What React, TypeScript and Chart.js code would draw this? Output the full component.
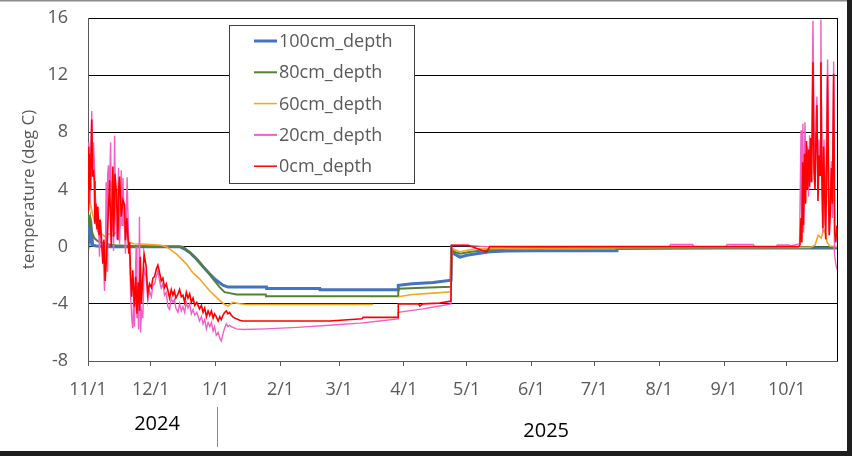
import React, { useEffect, useRef } from "react";
import { Chart, registerables } from "chart.js";

Chart.register(...registerables);

// ---------- data ----------
// x values are days since 2024-11-01
const monthTickDays = [0, 30, 61, 92, 120, 151, 181, 212, 242, 273, 304, 334];
const monthTickLabels = ["11/1", "12/1", "1/1", "2/1", "3/1", "4/1", "5/1", "6/1", "7/1", "8/1", "9/1", "10/1"];
const yearLabels = ["2024", "2025"];
const yearLabelDays = [33, 219];
const yearDividerDay = 61;
const xMaxDay = 358;
const yMin = -8;
const yMax = 16;
const yStep = 4;
const yTitle = "temperature (deg C)";
const seriesNames = ["100cm_depth", "80cm_depth", "60cm_depth", "20cm_depth", "0cm_depth"];

const depth100: [number, number | null][] = [
  [0, 0.9], [0.5, 1.3], [1, 0.6], [1.6, 1.2], [2.2, 0.1], [4, 0.05], [10, 0], [43.8, 0], [46, -0.15],
  [48.6, -0.4], [51.8, -0.85], [55, -1.4], [58.1, -1.9], [61.3, -2.35], [64.5, -2.7], [66.9, -2.83],
  [85.3, -2.83], [85.4, -2.93], [110.8, -2.93], [110.9, -3.02], [148.2, -3.02], [148.3, -2.7], [155, -2.6],
  [165, -2.5], [173.5, -2.35], [173.8, -0.2], [175, -0.5], [177.8, -0.73], [181, -0.6], [185.7, -0.5],
  [192, -0.35], [200, -0.3], [214, -0.28], [252.7, -0.28], [252.8, -0.12], [300, -0.1], [358, -0.1],
];

const depth80: [number, number | null][] = [
  [0, 2.2], [0.4, 1.5], [1, 2.0], [1.5, 1.2], [2.2, 0.9], [3, 0.6], [4.5, 0.4], [6, 0.3], [8, 0.25],
  [10, 0.15], [13, 0.1], [20, 0.05], [30, 0], [45.4, 0], [47.5, -0.25], [50.1, -0.6], [53.3, -1.08],
  [56.6, -1.66], [59.7, -2.25], [62.9, -2.83], [65.3, -3.18], [67.7, -3.25], [70.9, -3.35], [85, -3.35],
  [85.1, -3.47], [148.2, -3.47], [148.3, -2.95], [160, -2.88], [173.5, -2.8], [173.8, -0.15], [175, -0.35],
  [177.8, -0.5], [183, -0.35], [190, -0.25], [200, -0.15], [220, -0.1], [260, -0.08], [300, -0.06], [358, -0.06],
];

const depth60: [number, number | null][] = [
  [0, 3.0], [0.6, 4.2], [1.2, 3.0], [2, 2.4], [3, 1.8], [4.5, 1.3], [6, 1.0], [8, 0.7], [10, 0.9],
  [12, 0.8], [14, 1.1], [15.5, 1.5], [16.8, 2.1], [17.8, 1.6], [18.6, 0.8], [19.5, 0.3], [22, 0.2],
  [30, 0.15], [35, 0.1], [37.4, 0], [42.2, -0.5], [47, -1.2], [50, -1.8], [53.3, -2.25], [58, -3.07],
  [63, -3.77], [65.3, -4.05], [66.9, -4.15], [69.3, -3.9], [72.5, -4.0], [75.7, -4.05], [136.3, -4.05],
  [142, null], [148.3, -3.5], [155, -3.35], [165, -3.25], [173.5, -3.15], [173.8, -0.1], [175, -0.2],
  [177.8, -0.35], [185, -0.15], [200, -0.12], [250, -0.08], [300, -0.05], [345, -0.05], [347.5, 0.1],
  [349, 0.8], [350.5, 0.6], [351.6, 1.25], [352.5, 0.9], [353.3, 0.3], [354.5, 0.05], [358, 0],
];

const depth20: [number, number | null][] = [
  [0, 6.5], [0.4, 7.3], [0.9, 3.0], [1.3, 6.0], [1.8, 9.5], [2.2, 5.0], [2.6, 7.3], [3.0, 6.0], [3.5, 3.5],
  [4.0, 2.5], [4.6, 1.0], [5.0, 1.8], [5.5, -0.7], [6.0, 1.8], [6.6, 0.3], [7.0, -0.3], [7.5, -1.5],
  [7.9, -3.1], [8.3, -0.5], [8.7, 4.5], [9.1, -1.7], [9.4, 5.1], [9.8, 5.7], [10.3, 4.0], [10.8, 7.3],
  [11.3, 1.0], [11.7, 4.5], [12.2, -0.3], [12.7, 7.75], [13.2, 2.0], [13.8, 0.5], [14.6, 5.5], [15.1, 0.2],
  [15.9, 5.35], [16.3, 1.5], [16.7, 4.8], [17.3, 2.0], [17.9, -0.5], [18.7, 4.85], [19.3, 1.0], [19.9, -0.7],
  [20.4, -3.5], [20.9, -5.0], [21.4, -5.7], [21.9, -3.0], [22.2, -5.6], [22.6, -2.5], [23.0, 0.0],
  [23.4, -5.0], [23.8, -4.0], [24.2, -5.8], [24.6, 2.1], [25.1, -6.0], [25.6, -4.5], [26.2, -5.0],
  [26.8, -1.5], [27.8, -2.2], [28.6, -3.8], [29.4, -3.1], [30.3, -3.5], [31.0, -2.7], [31.8, -2.6],
  [32.6, -2.1], [33.4, -1.7], [34.2, -2.4], [35.0, -2.9], [35.8, -2.6], [36.6, -3.4], [37.4, -3.2],
  [38.2, -4.2], [39.0, -4.4], [39.8, -3.6], [40.6, -3.9], [41.3, -3.7], [42.0, -4.3], [43.0, -4.6],
  [43.8, -4.0], [44.6, -4.5], [45.4, -4.2], [46.2, -4.6], [47.0, -3.9], [47.8, -4.3], [48.6, -4.0],
  [49.4, -4.7], [50.2, -4.4], [51.0, -4.8], [52.0, -4.6], [53.3, -5.2], [54.2, -4.9], [55.0, -5.4],
  [55.8, -5.1], [56.6, -5.75], [57.4, -5.3], [58.2, -5.6], [59.0, -5.3], [59.8, -5.9], [60.5, -5.6],
  [61.3, -6.2], [62.2, -6.0], [63.0, -6.4], [63.7, -6.6], [64.5, -6.1], [65.3, -5.7], [66.1, -5.4],
  [66.9, -5.6], [67.7, -5.5], [68.5, -5.6], [70.9, -5.75], [74.0, -5.8], [85, -5.75], [100, -5.65],
  [115.5, -5.5], [130, -5.35], [139.5, -5.2], [148.2, -5.05], [148.3, -4.6], [160, -4.35], [168, -4.15],
  [173.5, -4.0], [173.8, 0.1], [181.7, 0.08], [190, 0.0], [278, 0.0], [278.5, 0.15], [289, 0.15],
  [289.5, 0.0], [305, 0.0], [305.5, 0.15], [318, 0.15], [318.5, 0.0], [329, 0.0], [329.5, 0.12],
  [335, 0.12], [335.5, 0.05], [340.1, 0.2], [340.8, 8.15], [341.2, 0.5], [341.7, 8.6], [342.0, 1.0],
  [342.7, 8.7], [343.3, 4.0], [343.9, 7.0], [344.4, 3.5], [344.9, 7.8], [345.4, 4.5], [345.9, 6.5],
  [346.5, 15.8], [347.3, 5.0], [347.8, 8.5], [348.4, 10.5], [348.9, 4.0], [349.4, 7.5], [349.9, 5.5],
  [350.3, 15.9], [350.8, 5.0], [351.3, 1.0], [351.8, 7.5], [352.4, 1.5], [352.9, 6.5], [353.5, 13.1],
  [354.3, 0.8], [354.8, 3.0], [355.3, 6.0], [355.8, 2.0], [356.4, 12.95], [356.8, -0.5], [357.5, -1.3],
  [358.0, -1.6],
];

const depth0: [number, number | null][] = [
  [0, 7.0], [0.3, 2.5], [0.6, 6.5], [1.0, 4.0], [1.3, 5.2], [1.8, 8.9], [2.2, 4.9], [2.6, 5.4], [3.0, 4.6],
  [3.3, 1.6], [3.8, 3.0], [4.3, 1.2], [4.7, 2.8], [5.3, 0.8], [5.8, 1.9], [6.3, 0.7], [7.1, -1.2],
  [7.6, 0.5], [8.2, -2.4], [8.8, -0.8], [9.5, 1.6], [10.3, 4.65], [11.1, 0.0], [11.9, 5.6], [12.3, 0.7],
  [12.9, 5.1], [13.5, 3.95], [14.3, 0.45], [14.7, 4.1], [15.1, 4.9], [15.9, 2.1], [16.7, 3.25], [17.5, 2.9],
  [17.9, 0.45], [18.6, 2.0], [19.5, -0.5], [19.9, 0.3], [20.4, -2.1], [20.9, -3.5], [21.4, -1.66],
  [22.2, -4.2], [22.8, -2.1], [23.4, -4.7], [24.0, -2.5], [24.6, -4.5], [25.0, -0.7], [25.5, -4.0],
  [26.2, -2.1], [26.8, -0.5], [27.8, -1.4], [28.6, -3.3], [29.4, -2.6], [30.3, -2.85], [31.0, -2.2],
  [31.8, -2.1], [32.6, -1.6], [33.4, -1.3], [34.2, -1.8], [35.0, -2.4], [35.8, -2.2], [36.6, -2.85],
  [37.4, -2.6], [38.2, -3.07], [39.0, -3.6], [39.8, -3.0], [40.6, -3.4], [41.3, -3.1], [42.0, -3.6],
  [43.0, -3.3], [43.8, -3.0], [44.6, -3.5], [45.4, -3.4], [46.2, -3.9], [47.0, -3.2], [47.8, -3.6],
  [48.6, -3.3], [49.4, -3.9], [50.2, -3.6], [51.0, -4.1], [52.0, -3.9], [53.3, -4.35], [54.2, -4.1],
  [55.0, -4.6], [55.8, -4.3], [56.6, -4.9], [57.4, -4.5], [58.2, -4.8], [59.0, -4.5], [59.8, -5.0],
  [60.5, -4.7], [61.3, -4.9], [62.2, -5.2], [63.0, -4.9], [63.7, -5.1], [64.5, -4.8], [65.3, -4.6],
  [66.1, -4.5], [66.9, -4.7], [67.7, -4.6], [68.5, -4.8], [69.5, -4.95], [70.9, -5.05], [72.5, -5.15],
  [74.0, -5.2], [115.5, -5.2], [131, -5.05], [131.5, -4.95], [148.2, -4.95], [148.3, -4.0], [158, -4.0],
  [158.6, -4.15], [160, -4.0], [168, -3.95], [173.5, -3.8], [173.8, 0.1], [181.7, 0.1], [190.5, -0.38],
  [192, 0.0], [260, 0.0], [339.5, 0.0], [340.3, 0.1], [340.8, 2.0], [341.2, 0.3], [341.6, 5.9],
  [342.0, 1.5], [342.5, 6.5], [343.0, 3.0], [343.4, 7.4], [343.9, 4.0], [344.4, 6.8], [344.9, 4.2],
  [345.4, 7.6], [345.9, 4.5], [346.5, 12.9], [347.0, 5.2], [347.5, 4.0], [348.0, 8.0], [348.4, 9.9],
  [348.9, 3.2], [349.4, 6.4], [349.9, 5.0], [350.3, 12.9], [350.8, 4.6], [351.2, 1.3], [351.6, 7.0],
  [352.1, 3.5], [352.6, 0.5], [353.1, 6.0], [353.5, 12.0], [354.0, 3.0], [354.3, 0.8], [354.8, 2.5],
  [355.3, 5.5], [355.8, 3.0], [356.4, 12.1], [356.9, 1.0], [357.4, 0.3], [358.0, 1.5],
];

const seriesData = [depth100, depth80, depth60, depth20, depth0];

// ---------- styles ----------
const FONT = "'Open Sans', 'DejaVu Sans', sans-serif";
const TEXT_GRAY = "#595959";
const seriesColors = ["#4472C4", "#548235", "#F5A623", "#F25FC6", "#FF0000"];
const seriesWidths = [3, 2, 1.6, 1.4, 1.6];
const legendWidths = [3, 2, 1.5, 2, 1.5];

const decorPlugin = {
  id: "decor",
  beforeDraw(chart: any) {
    const { ctx, width, height } = chart;
    ctx.save();
    ctx.fillStyle = "#ffffff";
    ctx.fillRect(0, 0, width, height);
    ctx.restore();
  },
  afterDraw(chart: any) {
    const { ctx, chartArea, scales, width, height } = chart;
    const xs = scales.x;
    ctx.save();
    // right border of plot area
    ctx.strokeStyle = "#000000";
    ctx.lineWidth = 1;
    ctx.beginPath();
    ctx.moveTo(Math.round(chartArea.right) + 0.5, chartArea.top);
    ctx.lineTo(Math.round(chartArea.right) + 0.5, chartArea.bottom);
    ctx.stroke();

    // legend box
    const lx = 229.5, ly = 25.5, lw = 185, lh = 158;
    ctx.fillStyle = "#ffffff";
    ctx.fillRect(lx, ly, lw, lh);
    ctx.strokeStyle = "#404040";
    ctx.lineWidth = 1;
    ctx.strokeRect(lx, ly, lw, lh);
    ctx.font = `18px ${FONT}`;
    ctx.textBaseline = "middle";
    ctx.textAlign = "left";
    seriesNames.forEach((name, i) => {
      const y = ly + 15.5 + i * 31.3;
      ctx.strokeStyle = seriesColors[i];
      ctx.lineWidth = legendWidths[i];
      ctx.beginPath();
      ctx.moveTo(254, y);
      ctx.lineTo(277, y);
      ctx.stroke();
      ctx.fillStyle = TEXT_GRAY;
      ctx.fillText(name, 279, y + 1);
    });

    // year labels and divider
    ctx.fillStyle = "#000000";
    ctx.font = `20px ${FONT}`;
    ctx.textAlign = "center";
    ctx.textBaseline = "middle";
    ctx.fillText(yearLabels[0], xs.getPixelForValue(yearLabelDays[0]), 424);
    ctx.fillText(yearLabels[1], xs.getPixelForValue(yearLabelDays[1]), 431);
    const dx = Math.round(xs.getPixelForValue(yearDividerDay)) + 1.5;
    ctx.strokeStyle = "#8a8a8a";
    ctx.lineWidth = 1;
    ctx.beginPath();
    ctx.moveTo(dx, 407);
    ctx.lineTo(dx, 447);
    ctx.stroke();

    // outer frame
    ctx.fillStyle = "#8c8c8c";
    ctx.fillRect(0, 0, width, 1.5);
    ctx.fillStyle = "#1e1e1e";
    ctx.fillRect(width - 5, 0, 5, height);
    ctx.fillRect(0, height - 5, width, 5);
    ctx.restore();
  },
};

export default function App() {
  const canvasRef = useRef<HTMLCanvasElement | null>(null);

  useEffect(() => {
    if (!canvasRef.current) return;
    const datasets = seriesData.map((pts, i) => ({
      label: seriesNames[i],
      data: pts.map(([x, y]) => ({ x, y })),
      borderColor: seriesColors[i],
      backgroundColor: seriesColors[i],
      borderWidth: seriesWidths[i],
      pointRadius: 0,
      tension: 0,
      fill: false,
      spanGaps: false,
      order: seriesData.length - i,
    }));

    const chart = new Chart(canvasRef.current, {
      type: "line",
      data: { datasets },
      options: {
        responsive: false,
        animation: false,
        parsing: true,
        layout: { padding: { left: 0, top: 18, right: 15, bottom: 0 } },
        plugins: {
          legend: { display: false },
          tooltip: { enabled: false },
        },
        scales: {
          x: {
            type: "linear",
            min: 0,
            max: xMaxDay,
            afterBuildTicks: (scale: any) => {
              scale.ticks = monthTickDays.map((v) => ({ value: v }));
            },
            afterFit: (scale: any) => {
              scale.height = 95;
            },
            ticks: {
              autoSkip: false,
              maxRotation: 0,
              padding: 13,
              color: TEXT_GRAY,
              font: { family: FONT, size: 18 },
              callback: (value: any) => {
                const i = monthTickDays.indexOf(Number(value));
                return i >= 0 ? monthTickLabels[i] : "";
              },
            },
            grid: {
              drawOnChartArea: false,
              drawTicks: true,
              tickLength: 5,
              color: TEXT_GRAY,
            },
            border: { color: TEXT_GRAY, width: 1 },
          },
          y: {
            type: "linear",
            min: yMin,
            max: yMax,
            afterFit: (scale: any) => {
              scale.width = 88;
              scale.paddingTop = 0;
              scale.paddingBottom = 0;
            },
            ticks: {
              stepSize: yStep,
              padding: 20,
              color: TEXT_GRAY,
              font: { family: FONT, size: 18 },
            },
            grid: { color: "#000000", drawTicks: false, lineWidth: 1 },
            border: { color: TEXT_GRAY, width: 1 },
            title: {
              display: true,
              text: yTitle,
              color: TEXT_GRAY,
              font: { family: FONT, size: 17 },
              padding: { top: 19, bottom: 0 },
            },
          },
        },
      },
      plugins: [decorPlugin],
    } as any);

    return () => chart.destroy();
  }, []);

  return (
    <div style={{ position: "fixed", left: 0, top: 0, width: 852, height: 456, background: "#fff" }}>
      <canvas ref={canvasRef} width={852} height={456} style={{ display: "block", width: 852, height: 456 }} />
    </div>
  );
}
